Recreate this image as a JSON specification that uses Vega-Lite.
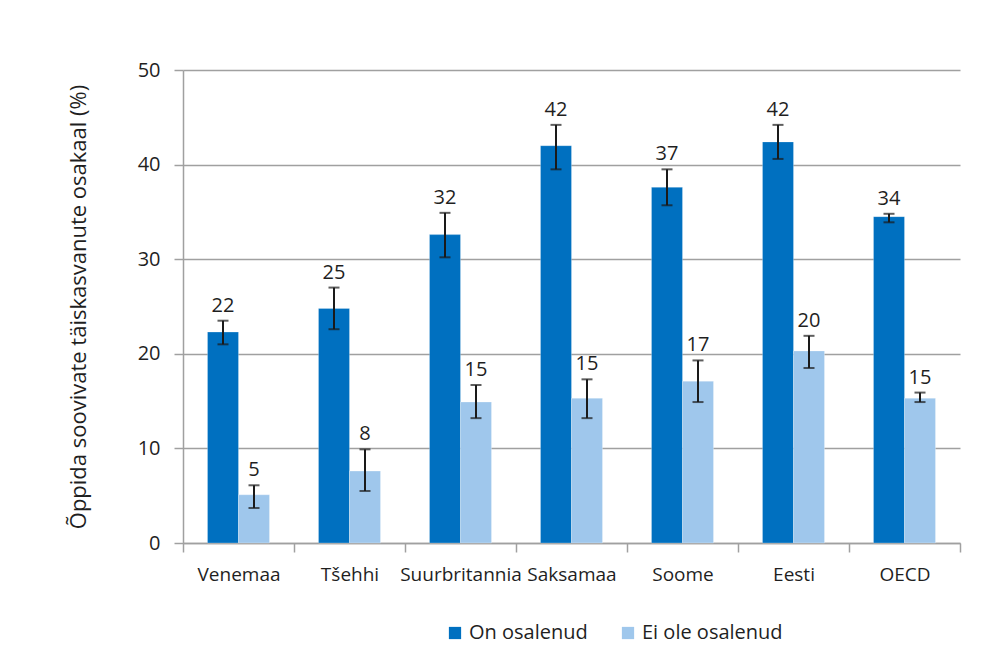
{
  "$schema": "https://vega.github.io/schema/vega-lite/v6.json",
  "width": 777,
  "height": 473,
  "autosize": "none",
  "padding": {"left": 183, "top": 70, "right": 45, "bottom": 114},
  "background": "white",
  "config": {
    "font": "Open Sans",
    "view": {"stroke": null},
    "axis": {"labelFont": "Open Sans", "titleFont": "Open Sans"}
  },
  "data": {
    "values": [
      {"land": "Venemaa", "grupp": "On osalenud", "v": 22.3, "lo": 21.0, "hi": 23.5, "lbl": "22"},
      {"land": "Venemaa", "grupp": "Ei ole osalenud", "v": 5.1, "lo": 3.7, "hi": 6.1, "lbl": "5"},
      {"land": "Tšehhi", "grupp": "On osalenud", "v": 24.8, "lo": 22.6, "hi": 27.0, "lbl": "25"},
      {"land": "Tšehhi", "grupp": "Ei ole osalenud", "v": 7.6, "lo": 5.5, "hi": 9.9, "lbl": "8"},
      {"land": "Suurbritannia", "grupp": "On osalenud", "v": 32.6, "lo": 30.2, "hi": 34.9, "lbl": "32"},
      {"land": "Suurbritannia", "grupp": "Ei ole osalenud", "v": 14.9, "lo": 13.2, "hi": 16.7, "lbl": "15"},
      {"land": "Saksamaa", "grupp": "On osalenud", "v": 42.0, "lo": 39.5, "hi": 44.2, "lbl": "42"},
      {"land": "Saksamaa", "grupp": "Ei ole osalenud", "v": 15.3, "lo": 13.2, "hi": 17.3, "lbl": "15"},
      {"land": "Soome", "grupp": "On osalenud", "v": 37.6, "lo": 35.7, "hi": 39.5, "lbl": "37"},
      {"land": "Soome", "grupp": "Ei ole osalenud", "v": 17.1, "lo": 14.9, "hi": 19.3, "lbl": "17"},
      {"land": "Eesti", "grupp": "On osalenud", "v": 42.4, "lo": 40.6, "hi": 44.2, "lbl": "42"},
      {"land": "Eesti", "grupp": "Ei ole osalenud", "v": 20.3, "lo": 18.5, "hi": 21.9, "lbl": "20"},
      {"land": "OECD", "grupp": "On osalenud", "v": 34.5, "lo": 33.9, "hi": 34.8, "lbl": "34"},
      {"land": "OECD", "grupp": "Ei ole osalenud", "v": 15.3, "lo": 14.9, "hi": 15.9, "lbl": "15"}
    ]
  },
  "encoding": {
    "x": {
      "field": "land", "type": "nominal", "sort": null,
      "scale": {"paddingInner": 0, "paddingOuter": 0},
      "axis": {
        "title": null, "labelAngle": 0, "labelFontSize": 19, "labelColor": "#1f1f1f",
        "labelPadding": 13, "tickBand": "extent", "tickSize": 9, "tickColor": "#a0a0a0",
        "tickWidth": 1.5, "domainColor": "#a0a0a0", "domainWidth": 1.5, "grid": false
      }
    },
    "xOffset": {
      "field": "grupp", "type": "nominal", "sort": ["On osalenud", "Ei ole osalenud"],
      "scale": {"paddingInner": 0, "paddingOuter": 0.79}
    }
  },
  "layer": [
    {
      "mark": {"type": "bar", "stroke": "#ffffff", "strokeOpacity": 0.25, "strokeWidth": 1},
      "encoding": {
        "y": {
          "field": "v", "type": "quantitative",
          "scale": {"domain": [0, 50]},
          "axis": {
            "title": "Õppida soovivate täiskasvanute osakaal (%)",
            "titleFontSize": 22, "titleFontWeight": "normal", "titleColor": "#1f1f1f", "titlePadding": 47,
            "values": [0, 10, 20, 30, 40, 50], "labelFontSize": 20, "labelColor": "#1f1f1f",
            "labelPadding": 14, "tickSize": 9, "tickColor": "#a0a0a0", "tickWidth": 1.5,
            "domainColor": "#a0a0a0", "domainWidth": 1.5,
            "grid": true, "gridColor": "#a0a0a0", "gridWidth": 1.5
          }
        },
        "color": {
          "field": "grupp", "type": "nominal",
          "sort": ["On osalenud", "Ei ole osalenud"],
          "scale": {"domain": ["On osalenud", "Ei ole osalenud"], "range": ["#0070c0", "#9fc7ec"]},
          "legend": {
            "title": null, "orient": "none", "legendX": 262, "legendY": 553,
            "direction": "horizontal", "symbolType": "square", "symbolSize": 150,
            "symbolStrokeWidth": 0, "labelFontSize": 20, "labelColor": "#1f1f1f",
            "columnPadding": 30, "labelOffset": 4
          }
        }
      }
    },
    {
      "mark": {"type": "rule", "color": "#1a1a1a", "strokeWidth": 2},
      "encoding": {
        "y": {"field": "lo", "type": "quantitative"},
        "y2": {"field": "hi"}
      }
    },
    {
      "mark": {"type": "tick", "color": "#1a1a1a", "thickness": 2, "size": 11},
      "encoding": {"y": {"field": "lo", "type": "quantitative"}}
    },
    {
      "mark": {"type": "tick", "color": "#1a1a1a", "thickness": 2, "size": 11},
      "encoding": {"y": {"field": "hi", "type": "quantitative"}}
    },
    {
      "mark": {"type": "text", "baseline": "bottom", "dy": -5, "fontSize": 20, "color": "#1f1f1f"},
      "encoding": {
        "y": {"field": "hi", "type": "quantitative"},
        "text": {"field": "lbl"}
      }
    }
  ]
}
